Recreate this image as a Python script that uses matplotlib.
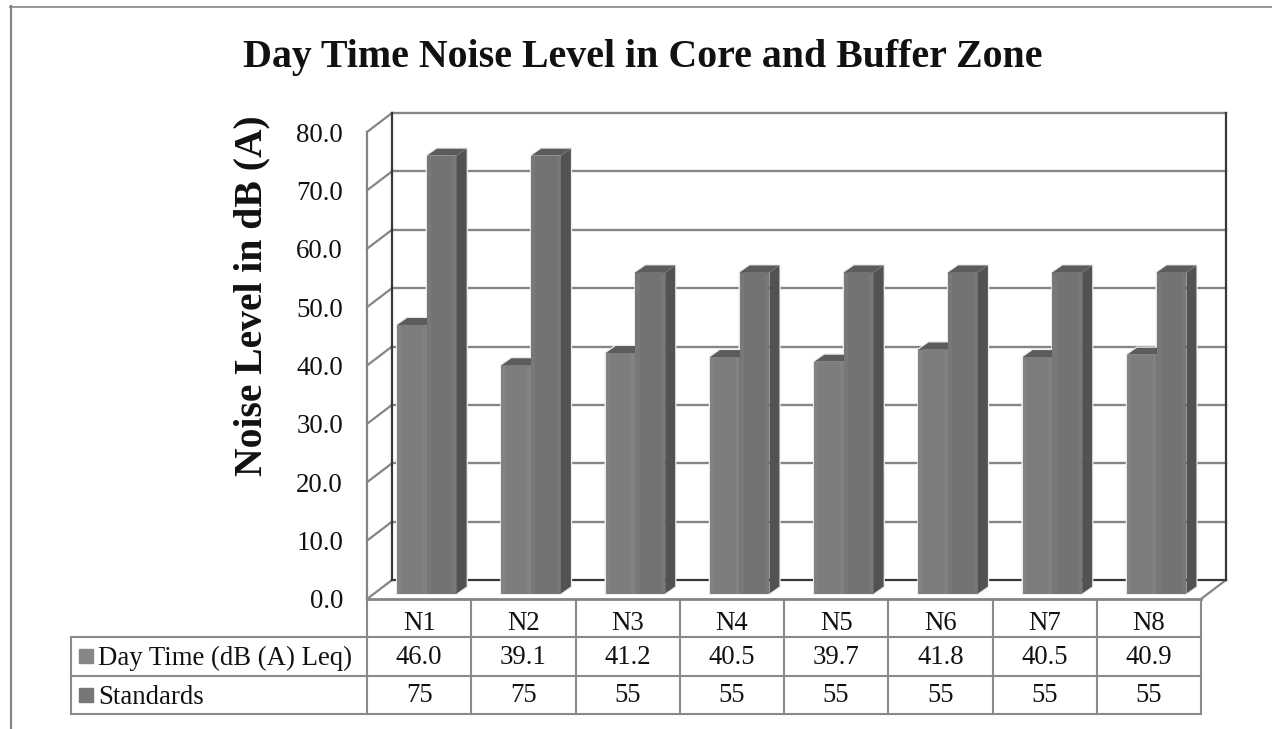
import matplotlib
matplotlib.use("Agg")
import matplotlib.pyplot as plt
from matplotlib.patches import Polygon
import numpy as np

categories = ["N1", "N2", "N3", "N4", "N5", "N6", "N7", "N8"]
day_time = [46.0, 39.1, 41.2, 40.5, 39.7, 41.8, 40.5, 40.9]
standards = [75, 75, 55, 55, 55, 55, 55, 55]
day_labels = ["46.0", "39.1", "41.2", "40.5", "39.7", "41.8", "40.5", "40.9"]
series_names = ["Day Time (dB (A) Leq)", "Standards"]
y_ticks = np.arange(0, 90, 10)

W, H = 1272, 729
plt.rcParams["font.family"] = ["Liberation Serif"]
fig = plt.figure(figsize=(W / 100, H / 100), dpi=100)

# the axes is the front plane of the 3d box
left, right, bottom, top = 367, 1201, 599, 132
ax = fig.add_axes([left / W, 1 - bottom / H, (right - left) / W, (bottom - top) / H])
ax.set_xlim(0, 8)
ax.set_ylim(0, 80)
ax.axis("off")

ux = (right - left) / 8   # px per category
uy = (bottom - top) / 80  # px per dB
wall_dx, wall_dy = 25 / ux, 19 / uy
bar_shift_x, bar_shift_y = 0.29, 5.5 / uy
bar_w = 0.285
side_dx, side_dy = 10 / ux, 7 / uy

grid = "#858585"
dark = "#383838"

# side wall and back wall
for v in y_ticks[1:]:
    ax.plot([0, wall_dx], [v, v + wall_dy], color=grid, lw=1.6, clip_on=False, zorder=1)
    ax.plot([wall_dx, 8 + wall_dx], [v + wall_dy, v + wall_dy], color=grid, lw=1.7, clip_on=False, zorder=1)
ax.plot([0, 0], [0, 80], color=grid, lw=1.6, clip_on=False, zorder=1)
ax.plot([wall_dx, wall_dx], [wall_dy, 80 + wall_dy], color=dark, lw=1.6, clip_on=False, zorder=1.5)
ax.plot([8 + wall_dx, 8 + wall_dx], [wall_dy, 80 + wall_dy], color=dark, lw=1.6, clip_on=False, zorder=1.5)
ax.plot([wall_dx, 8 + wall_dx], [wall_dy, wall_dy], color=dark, lw=1.6, clip_on=False, zorder=1.5)
ax.plot([0, wall_dx], [0, wall_dy], color=grid, lw=1.6, clip_on=False, zorder=1)
ax.plot([8, 8 + wall_dx], [0, wall_dy], color=grid, lw=1.6, clip_on=False, zorder=1)
ax.plot([0, 8], [0, 0], color=grid, lw=2, clip_on=False, zorder=1)


def draw_bar(x0, v, c1, c2):
    y0 = bar_shift_y
    y1 = v + bar_shift_y
    x1 = x0 + bar_w
    # pale halo around the bar cuts the grid lines
    ax.add_patch(Polygon([(x0, y0), (x1, y0), (x1 + side_dx, y0 + side_dy), (x1 + side_dx, y1 + side_dy),
                          (x0 + side_dx, y1 + side_dy), (x0, y1)], closed=True, fc="none", ec="#ececec",
                         lw=1.8, zorder=2))
    ax.bar(x0, v, bar_w, y0, align="edge", color=c1, zorder=3)
    ax.bar(x0 + 0.04, v, bar_w - 0.08, y0, align="edge", color=c2, zorder=3.1)
    ax.add_patch(Polygon([(x1, y0), (x1 + side_dx, y0 + side_dy), (x1 + side_dx, y1 + side_dy), (x1, y1)],
                         closed=True, fc="#525252", ec="none", zorder=3))
    ax.add_patch(Polygon([(x0, y1), (x1, y1), (x1 + side_dx, y1 + side_dy), (x0 + side_dx, y1 + side_dy)],
                         closed=True, fc="#5c5c5c", ec="none", zorder=3))


for i in range(len(categories)):
    draw_bar(i + bar_shift_x, day_time[i], "#828282", "#7d7d7d")
    draw_bar(i + bar_shift_x + bar_w, standards[i], "#787878", "#737373")

ax.set_xlim(0, 8)
ax.set_ylim(0, 80)

# y tick labels
for v in y_ticks:
    ax.annotate("%.1f" % v, (0, v), xytext=(-24, 0), textcoords="offset pixels", ha="right",
                va="center_baseline", fontsize=19.4, color="#111111", annotation_clip=False)

fig.text(643 / W, 1 - 57 / H, "Day Time Noise Level in Core and Buffer Zone", ha="center", va="center",
         fontsize=28.7, fontweight="bold", color="#111111")
fig.text(252 / W, 1 - 296 / H, "Noise Level in dB (A)", ha="center", va="center", rotation=90,
         fontsize=28.5, fontweight="bold", color="#111111")

# data table under the plot, x follows the categories
tab = fig.add_axes([0, 0, 1, 1], zorder=5)
tab.set_xlim(0, W)
tab.set_ylim(H, 0)
tab.axis("off")
tab.patch.set_alpha(0)

row_y = [637, 676, 714]
edge = "#8a8a8a"
for y in row_y:
    tab.plot([71, right], [y, y], color=edge, lw=1.5)
tab.plot([71, 71], [row_y[0], row_y[2]], color=edge, lw=1.5)
for i in range(len(categories) + 1):
    x = left + i * ux
    tab.plot([x, x], [599, row_y[2]], color=edge, lw=1.5)

row_vals = [day_labels, [str(s) for s in standards]]
for i, name in enumerate(categories):
    xc = left + (i + 0.5) * ux
    tab.text(xc, 624, name, ha="center", va="center", fontsize=19.3, color="#111111")
    tab.text(xc, 658, row_vals[0][i], ha="center", va="center", fontsize=19.3, color="#111111")
    tab.text(xc, 696, row_vals[1][i], ha="center", va="center", fontsize=19.3, color="#111111")

swatches = ["#868686", "#777777"]
label_y = [656, 695]
for j, name in enumerate(series_names):
    yc = label_y[j]
    tab.fill([79, 93, 93, 79], [yc - 7, yc - 7, yc + 7, yc + 7], color=swatches[j])
    tab.text(98, yc + 2, name, ha="left", va="center", fontsize=19.3, color="#111111")

# outer border of the chart image
tab.plot([10, W], [6.5, 6.5], color="#858585", lw=1.2)
tab.plot([11, 11], [6, H], color="#858585", lw=1.6)

fig.savefig("out.png", dpi=100)
